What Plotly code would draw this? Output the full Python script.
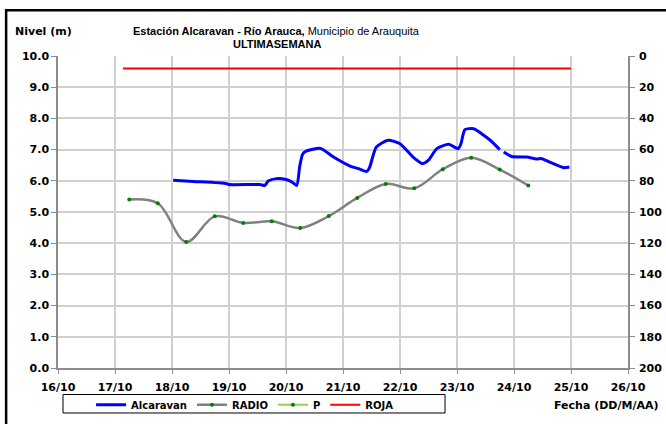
import plotly.graph_objects as go

# Nivel del río - estación Alcaravan (serie continua)
alcaravan_time = [
    "2014-10-18 00:30", "2014-10-18 09:00", "2014-10-18 23:00", "2014-10-19 00:00",
    "2014-10-19 13:00", "2014-10-19 15:00", "2014-10-19 16:30", "2014-10-19 20:00",
    "2014-10-20 00:00", "2014-10-20 02:30", "2014-10-20 04:30", "2014-10-20 05:45",
    "2014-10-20 07:00", "2014-10-20 08:30", "2014-10-20 14:30", "2014-10-20 20:00",
    "2014-10-21 03:00", "2014-10-21 06:30", "2014-10-21 10:00", "2014-10-21 11:15",
    "2014-10-21 14:00", "2014-10-21 19:00", "2014-10-22 00:00", "2014-10-22 05:30",
    "2014-10-22 09:30", "2014-10-22 12:00", "2014-10-22 15:30", "2014-10-22 20:30",
    "2014-10-23 00:30", "2014-10-23 01:40", "2014-10-23 03:20", "2014-10-23 07:00",
    "2014-10-23 10:20", "2014-10-23 14:00", "2014-10-23 18:00", "2014-10-23 19:00",
    "2014-10-23 19:40", "2014-10-23 23:00", "2014-10-24 05:20", "2014-10-24 09:30",
    "2014-10-24 11:45", "2014-10-24 15:00", "2014-10-24 21:00", "2014-10-24 23:20",
]
alcaravan_level = [
    6.02, 5.98, 5.91, 5.88,
    5.88, 5.85, 5.99, 6.07,
    6.04, 5.96, 5.85, 6.45,
    6.85, 6.95, 7.04, 6.76,
    6.47, 6.39, 6.30, 6.44,
    7.08, 7.30, 7.19, 6.76,
    6.55, 6.66, 7.03, 7.17,
    7.03, 7.19, 7.64, 7.67,
    7.51, 7.30, 7.00, None,
    6.92, 6.78, 6.76, 6.70,
    6.71, 6.60, 6.42, 6.44,
]

# Lecturas de radio cada 12 horas
radio_time = [
    "2014-10-17 06:00", "2014-10-17 18:00", "2014-10-18 06:00", "2014-10-18 18:00",
    "2014-10-19 06:00", "2014-10-19 18:00", "2014-10-20 06:00", "2014-10-20 18:00",
    "2014-10-21 06:00", "2014-10-21 18:00", "2014-10-22 06:00", "2014-10-22 18:00",
    "2014-10-23 06:00", "2014-10-23 18:00", "2014-10-24 06:00",
]
radio_level = [5.40, 5.28, 4.04, 4.86, 4.65, 4.70, 4.49, 4.87,
               5.45, 5.90, 5.76, 6.37, 6.74, 6.36, 5.85]

# Precipitación (sin registros en el periodo)
p_time = [None]
p_values = [None]

# Cota de alerta roja
roja_time = ["2014-10-17 03:20", "2014-10-25 00:00"]
roja_level = [9.6, 9.6]

x_ticks = ["2014-10-%02d" % d for d in range(16, 27)]
x_tick_text = ["%d/10" % d for d in range(16, 27)]
y_ticks = [float(v) for v in range(0, 11)]
y2_ticks = list(range(0, 201, 20))

BOLD = dict(family="DejaVu Sans", size=11, color="black", weight="bold")
TITLE_FONT = dict(family="Liberation Sans, Arial, sans-serif", size=11, color="black")

fig = go.Figure()
fig.add_trace(go.Scatter(
    x=alcaravan_time, y=alcaravan_level, name="Alcaravan", mode="lines",
    line=dict(color="#0000FF", width=3, shape="spline", smoothing=0.6),
    connectgaps=False,
))
fig.add_trace(go.Scatter(
    x=radio_time, y=radio_level, name="RADIO", mode="lines+markers",
    line=dict(color="#808080", width=2.5, shape="spline", smoothing=1.0),
    marker=dict(color="#008000", size=4),
))
fig.add_trace(go.Scatter(
    x=p_time, y=p_values, name="P", mode="lines+markers", yaxis="y2",
    line=dict(color="#92D050", width=2), marker=dict(color="#008000", size=4),
))
fig.add_trace(go.Scatter(
    x=roja_time, y=roja_level, name="ROJA", mode="lines",
    line=dict(color="#FF0000", width=2),
))

grid = "#d0d0d0"
axis = "#8c8c8c"

fig.update_layout(
    width=666, height=424,
    margin=dict(l=58, r=38, t=56, b=56, autoexpand=False),
    paper_bgcolor="white", plot_bgcolor="white",
    showlegend=True,
    legend=dict(
        orientation="h", x=0.058, xanchor="left", y=-0.118, yanchor="middle",
        font=dict(family="DejaVu Sans", size=10, color="black", weight="bold"),
        bgcolor="rgba(0,0,0,0)", borderwidth=0, itemwidth=30,
    ),
    xaxis=dict(
        type="date", range=["2014-10-16", "2014-10-26"],
        tickvals=x_ticks, ticktext=x_tick_text, tickfont=BOLD,
        showgrid=True, gridcolor=grid, gridwidth=1.5,
        showline=True, linecolor=axis, linewidth=1.5,
        ticks="outside", ticklen=4, tickcolor=axis, zeroline=False,
        ticklabelstandoff=4,
    ),
    yaxis=dict(
        range=[0, 10], tickvals=y_ticks, tickformat=".1f", tickfont=BOLD,
        showgrid=True, gridcolor=grid, gridwidth=1.5,
        showline=True, linecolor=axis, linewidth=1.5,
        ticks="outside", ticklen=5, tickcolor=axis, zeroline=False,
    ),
    yaxis2=dict(
        overlaying="y", side="right", range=[200, 0], tickvals=y2_ticks,
        tickfont=BOLD, showgrid=False,
        showline=True, linecolor=axis, linewidth=1.5,
        ticks="outside", ticklen=5, tickcolor=axis, zeroline=False,
        ticklabelstandoff=2,
    ),
    shapes=[
        # marco exterior del gráfico
        dict(type="rect", xref="paper", yref="paper",
             x0=-0.091, x1=1.2, y0=-0.4, y1=1.147,
             line=dict(color="black", width=2.5), layer="below"),
        # caja de la leyenda
        dict(type="rect", xref="paper", yref="paper",
             x0=0.0088, x1=0.679, y0=-0.1442, y1=-0.0849,
             line=dict(color="black", width=1), layer="above"),
    ],
    annotations=[
        dict(text="<b>Estación Alcaravan - Río Arauca,</b> Municipio de Arauquita",
             xref="paper", yref="paper", x=0.384, y=1.079,
             xanchor="center", yanchor="middle", showarrow=False,
             font=TITLE_FONT),
        dict(text="<b>ULTIMASEMANA</b>",
             xref="paper", yref="paper", x=0.384, y=1.040,
             xanchor="center", yanchor="middle", showarrow=False,
             font=TITLE_FONT),
        dict(text="Nivel (m)", xref="paper", yref="paper", x=-0.079, y=1.077,
             xanchor="left", yanchor="middle", showarrow=False, font=BOLD),
        dict(text="Fecha (DD/M/AA)", xref="paper", yref="paper", x=0.8667, y=-0.1186,
             xanchor="left", yanchor="middle", showarrow=False, font=BOLD),
    ],
)

fig.write_html("out.html")
